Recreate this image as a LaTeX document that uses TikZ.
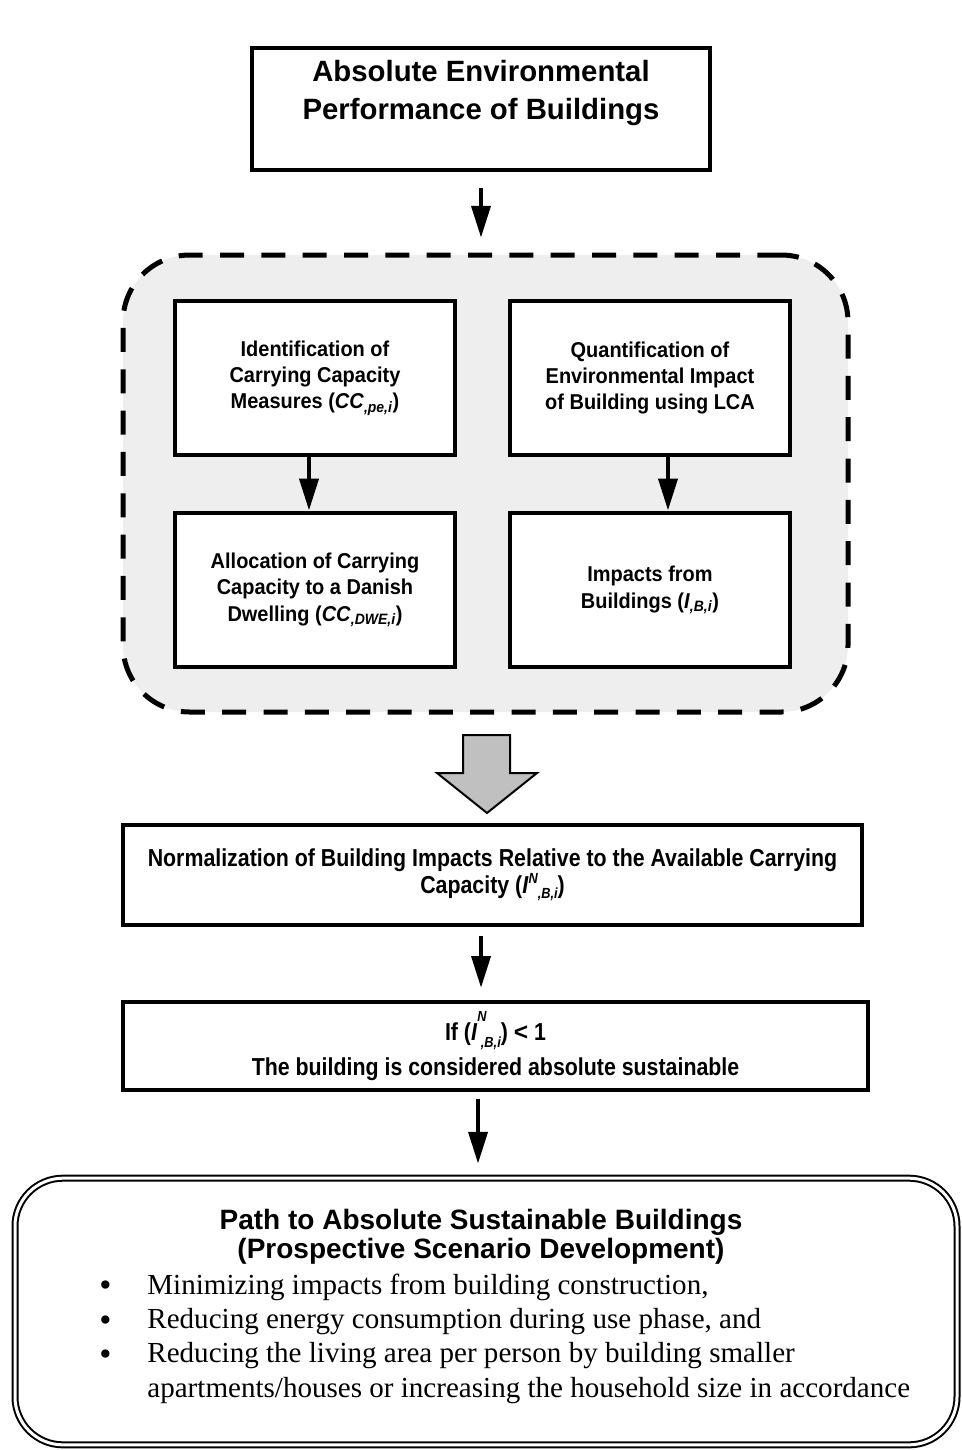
\documentclass[tikz,border=0pt]{standalone}
\usepackage{fontspec}
\setmainfont{Liberation Sans}
\newfontfamily\semisans{Liberation Sans}[FakeStretch=0.93]
\newfontfamily\narrowsans{Liberation Sans}[FakeStretch=0.87]
\newfontfamily\timesfont{Liberation Serif}
\usepackage{xcolor}
\usetikzlibrary{arrows.meta, positioning}
\definecolor{groupgray}{HTML}{EEEEEE}
\definecolor{fatgray}{HTML}{C0C0C0}
\newcommand\tightlines{\lineskiplimit=-20pt\relax}
\newcommand\smallidx[1]{{\fontsize{11}{11}\selectfont\itshape #1}}

\begin{document}
\begin{tikzpicture}[
  x=0.75pt, y=-0.75pt,
  font=\bfseries,
  box/.style={draw, line width=3pt, align=center, inner sep=0pt, fill=white},
  topbox/.style={box, minimum width=343.5pt, minimum height=91.5pt,
                 font=\bfseries\fontsize{22}{28.5}\selectfont},
  smallbox/.style={box, minimum width=210pt, minimum height=116pt,
                   font=\semisans\bfseries\fontsize{16.1}{19.8}\selectfont},
  widebox/.style={box,
                  font=\narrowsans\bfseries\fontsize{18.4}{19.8}\selectfont\tightlines},
  group/.style={draw, dash pattern=on 18pt off 13pt, line width=3.75pt,
                rounded corners=50pt, fill=groupgray,
                minimum width=543.75pt, minimum height=342.75pt},
  finalbox/.style={draw, double, double distance=2.25pt, line width=1.5pt,
                   rounded corners=36pt, minimum width=706.5pt, minimum height=200pt},
  arr/.style={-{Triangle[width=14pt, length=24pt]}, line width=3.5pt},
  fatarr/.style={draw, line width=1.5pt, fill=fatgray, line join=miter}
]
\useasboundingbox (0,0) rectangle (961,1450);

\node[topbox] (aep) at (481,109) {Absolute Environmental\\Performance of Buildings\\~};

\node[group] (grp) at (485.5,483.5) {};
\node[smallbox] (ident) at (315,378) {Identification of\\Carrying Capacity\\Measures (\textit{CC}\textsubscript{\itshape ,pe,i})};
\node[smallbox] (quant) at (650,378) {Quantification of\\Environmental Impact\\of Building using LCA};
\node[smallbox] (alloc) at (315,590) {Allocation of Carrying\\Capacity to a Danish\\Dwelling (\textit{CC}\textsubscript{\itshape ,DWE,i})};
\node[smallbox] (impact) at (650,590) {Impacts from\\Buildings (\textit{I}\textsubscript{\itshape ,B,i})};

\node[widebox, minimum width=554pt, minimum height=75pt] (norm) at (492.5,875) {Normalization of Building Impacts Relative to the Available Carrying\\Capacity (\textit{I}\raisebox{0.75ex}{\smallidx{N}}\raisebox{-0.4ex}{\smallidx{,B,i}})};
\node[widebox, minimum width=559pt, minimum height=66pt] (cond) at (495.5,1046) {If (\textit{I}\rlap{\raisebox{1.5ex}{\smallidx{N}}}\raisebox{-0.5ex}{\smallidx{\ ,B,i}}) {\normalfont\bfseries<} 1\\[6pt]The building is considered absolute sustainable};

\node[finalbox] (path) at (486,1311.5) {};
\node[font=\bfseries\fontsize{21}{21.75}\selectfont, align=center] (pathtitle) at (481,1237) {Path to Absolute Sustainable Buildings\\(Prospective Scenario Development)};
\node[anchor=base west, inner sep=0pt, font=\timesfont\fontsize{21.8}{25.8}\selectfont] (pathlist) at (99,1294)
  {\begin{tabular}[t]{@{}c@{\hspace{27pt}}l@{}}
   \raisebox{-2pt}{\fontsize{26}{26}\selectfont\textbullet} & Minimizing impacts from building construction,\\
   \raisebox{-2pt}{\fontsize{26}{26}\selectfont\textbullet} & Reducing energy consumption during use phase, and\\
   \raisebox{-2pt}{\fontsize{26}{26}\selectfont\textbullet} & Reducing the living area per person by building smaller\\
               & apartments/houses or increasing the household size in accordance
   \end{tabular}};

\draw[arr, shorten <=12pt, shorten >=11pt] (aep.south) -- (aep.south |- grp.north);
\draw[arr] ([xshift=-4.5pt]ident.south) -- ([xshift=-4.5pt]alloc.north);
\draw[arr] ([xshift=13.5pt]quant.south) -- ([xshift=13.5pt]impact.north);
\draw[fatarr] (463,735) -- (510,735) -- (510,773) -- (537,773) -- (487,813)
  -- (437,773) -- (463,773) -- cycle;
\draw[arr, shorten <=7pt, shorten >=9pt] ([xshift=-8.6pt]norm.south) -- ([xshift=-8.6pt]norm.south |- cond.north);
\draw[arr, shorten <=5pt, shorten >=10pt] ([xshift=-13.1pt]cond.south) -- ([xshift=-13.1pt]cond.south |- path.north);
\end{tikzpicture}
\end{document}
